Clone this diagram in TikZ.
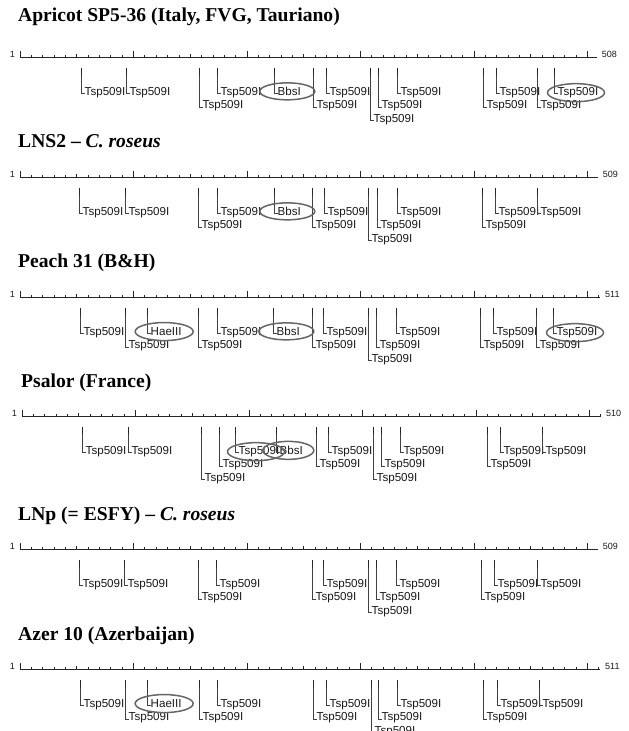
\documentclass[tikz,border=0pt]{standalone}
\usepackage{fontspec}
\setmainfont{Liberation Serif}
\setsansfont{Liberation Sans}
\tikzset{
  rule/.style={line width=0.8pt, black!85},
  sitetop/.style={line width=1pt, black!85},
  site/.style={line width=0.5pt, black!75},
  enzyme/.style={font=\sffamily\fontsize{11.6}{11.6}\selectfont, inner sep=0pt, text=black!90},
  ends/.style={font=\sffamily\fontsize{9}{9}\selectfont, inner sep=0pt, text=black!90},
  title/.style={font=\bfseries\fontsize{19.6}{19.6}\selectfont, inner sep=0pt, anchor=base west},
  ring/.style={draw=black!60, line width=1.5pt},
}
\newcommand\bpx{1.135}
% ruler: x start, length, name
\newcommand\ruler[3]{%
  \draw[rule] (#1,0) -- ({#1+#2*\bpx},0);
  \foreach \b in {0,10,...,#2} \draw[rule] ({#1+\b*\bpx},0) -- ++(0,-2);
  \foreach \b in {50,150,...,#2} \draw[rule] ({#1+\b*\bpx},0) -- ++(0,-3.5);
  \foreach \b in {0,100,...,#2} \draw[rule] ({#1+\b*\bpx},0) -- ++(0,-6.5);
  \node[ends, anchor=east] (#3a) at (#1-5,-2.5) {1};
  \node[ends, anchor=west] (#3b) at ({#1+#2*\bpx+5},-2.5) {#2};
}
% cut sites: panel name, list of x/row/label
\newcommand\cuts[2]{%
  \foreach \sx/\sr/\st [count=\k] in {#2} {
    \node[enzyme, anchor=base west] (#1c\k) at ({\sx+3.5},{21.25+13.25*\sr+4}) {\st};
    \draw[sitetop] (\sx,11) -- (\sx,18);
    \draw[site] (\sx,18) |- ([yshift=1.8pt]#1c\k.base west);
  }
}
\begin{document}
\begin{tikzpicture}[x=1pt,y=-1pt]
\useasboundingbox (0,0) rectangle (629,731);

% titles
\node[title] (t1) at (18,21) {Apricot SP5-36 (Italy, FVG, Tauriano)};
\node[title] (t2) at (18,147) {LNS2 -- \textit{C. roseus}};
\node[title] (t3) at (18,267) {Peach 31 (B\&H)};
\node[title] (t4) at (21,387) {Psalor (France)};
\node[title] (t5) at (18,520) {LNp (= ESFY) -- \textit{C. roseus}};
\node[title] (t6) at (18,640) {Azer 10 (Azerbaijan)};

% Apricot SP5-36
\begin{scope}[shift={(0,57)}]
\ruler{20}{508}{p}
\cuts{p}{81/1/Tsp509I, 126/1/Tsp509I, 199/2/Tsp509I, 217/1/Tsp509I, 274/1/BbsI,
  313/2/Tsp509I, 326/1/Tsp509I, 370/3/Tsp509I, 378/2/Tsp509I, 397/1/Tsp509I,
  483/2/Tsp509I, 496/1/Tsp509I, 537/2/Tsp509I, 554/1/Tsp509I}
\draw[ring] ([xshift=-2pt]pc5.center) ellipse [x radius=27.5, y radius=8.5];
\draw[ring] ([xshift=-2pt]pc14.center) ellipse [x radius=28.5, y radius=9];
\end{scope}

% LNS2
\begin{scope}[shift={(0,177)}]
\ruler{20}{509}{q}
\cuts{q}{79/1/Tsp509I, 125/1/Tsp509I, 198/2/Tsp509I, 217/1/Tsp509I, 274/1/BbsI,
  312/2/Tsp509I, 324/1/Tsp509I, 368/3/Tsp509I, 377/2/Tsp509I, 397/1/Tsp509I,
  482/2/Tsp509I, 495/1/Tsp509I, 537/1/Tsp509I}
\draw[ring] ([xshift=-2pt]qc5.center) ellipse [x radius=27.5, y radius=8.5];
\end{scope}

% Peach 31
\begin{scope}[shift={(0,297)}]
\ruler{20}{511}{r}
\cuts{r}{80/1/Tsp509I, 125/2/Tsp509I, 147/1/HaeIII, 198/2/Tsp509I, 217/1/Tsp509I,
  273/1/BbsI, 312/2/Tsp509I, 323/1/Tsp509I, 368/3/Tsp509I, 376/2/Tsp509I,
  396/1/Tsp509I, 480/2/Tsp509I, 493/1/Tsp509I, 536/2/Tsp509I, 553/1/Tsp509I}
\draw[ring] ([xshift=-2pt]rc3.center) ellipse [x radius=29, y radius=9];
\draw[ring] ([xshift=-2pt]rc6.center) ellipse [x radius=27.5, y radius=8.5];
\draw[ring] ([xshift=-2pt]rc15.center) ellipse [x radius=28.5, y radius=9];
\end{scope}

% Psalor
\begin{scope}[shift={(0,416)}]
\ruler{22}{510}{s}
\cuts{s}{82/1/Tsp509I, 128/1/Tsp509I, 201/3/Tsp509I, 219/2/Tsp509I, 235/1/Tsp509I,
  276/1/BbsI, 316/2/Tsp509I, 328/1/Tsp509I, 373/3/Tsp509I, 381/2/Tsp509I,
  400/1/Tsp509I, 487/2/Tsp509I, 500/1/Tsp509I, 542/1/Tsp509I}
\draw[ring] ([xshift=-3pt]sc5.center) ellipse [x radius=28.5, y radius=9];
\draw[ring] ([xshift=-3pt]sc6.center) ellipse [x radius=25.5, y radius=9];
\end{scope}

% LNp
\begin{scope}[shift={(0,549)}]
\ruler{20}{509}{u}
\cuts{u}{79/1/Tsp509I, 124/1/Tsp509I, 198/2/Tsp509I, 216/1/Tsp509I, 312/2/Tsp509I,
  323/1/Tsp509I, 368/3/Tsp509I, 376/2/Tsp509I, 396/1/Tsp509I, 481/2/Tsp509I,
  494/1/Tsp509I, 537/1/Tsp509I}
\end{scope}

% Azer 10
\begin{scope}[shift={(0,669)}]
\ruler{20}{511}{v}
\cuts{v}{80/1/Tsp509I, 125/2/Tsp509I, 147/1/HaeIII, 199/2/Tsp509I, 217/1/Tsp509I,
  313/2/Tsp509I, 326/1/Tsp509I, 371/3/Tsp509I, 378/2/Tsp509I, 397/1/Tsp509I,
  483/2/Tsp509I, 497/1/Tsp509I, 539/1/Tsp509I}
\draw[ring] ([xshift=-2pt]vc3.center) ellipse [x radius=29, y radius=9];
\end{scope}
\end{tikzpicture}
\end{document}
